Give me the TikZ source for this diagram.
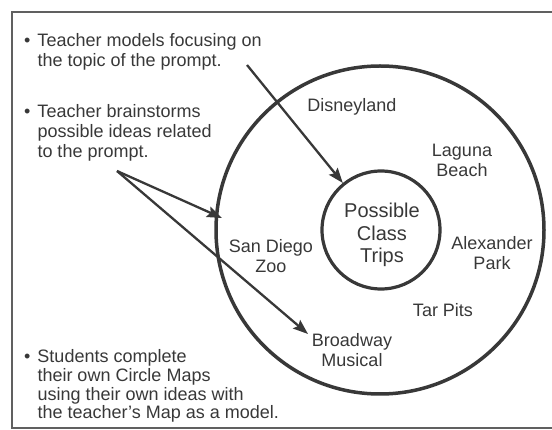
\documentclass[tikz,border=0pt]{standalone}
\usepackage{fontspec}
\setmainfont{Liberation Sans}
\usetikzlibrary{arrows.meta}
\definecolor{ink}{HTML}{383838}
% bulleted note, later lines start with &
\newcommand\noteitem[1]{\begin{tabular}[t]{@{}l@{\hspace{7pt}}l@{}}\textbullet & #1\end{tabular}}

\begin{document}
\begin{tikzpicture}[x=1pt, y=-1pt, >={Stealth[length=15pt,width=11pt,inset=2.5pt]},
  place/.style={align=center, text=ink, font=\fontsize{18}{20}\selectfont},
  note/.style={anchor=base west, inner sep=0pt, text=ink, font=\fontsize{18}{20}\selectfont},
  arrow/.style={->, draw=ink, line width=2.3pt}]

\useasboundingbox (0,0) rectangle (552,430);

%==== frame ====
\draw[ink!80, line width=1.5pt] (560,12) -- (12,12) -- (12,428) -- (560,428);

%==== circle map ====
\node[circle, draw=ink, line width=3.5pt, minimum size=328pt] (outer) at (380,230) {};
\node[circle, draw=ink, line width=3.2pt, minimum size=118pt] (trips) at (381,230) {};
\node[place, font=\fontsize{20}{22.5}\selectfont] (topic) at (382,235) {Possible\\Class\\Trips};

% ideas in the outer ring
\node[place] (disney)   at (352,107) {Disneyland};
\node[place] (laguna)   at (462,160) {Laguna\\Beach};
\node[place] (zoo)      at (271,256) {San Diego\\Zoo};
\node[place] (park)     at (492,253) {Alexander\\Park};
\node[place] (tarpits)  at (443,310) {Tar Pits};
\node[place] (musical)  at (352,350) {Broadway\\Musical};

%==== notes on the left ====
\node[note] (modelNote) at (24,47)
  {\noteitem{Teacher models focusing on\\ & the topic of the prompt.}};
\node[note] (brainNote) at (24,118)
  {\noteitem{Teacher brainstorms\\ & possible ideas related\\ & to the prompt.}};
\node[note, font=\fontsize{18}{18.5}\selectfont] (studentNote) at (24,363)
  {\noteitem{Students complete\\ & their own Circle Maps\\ & using their own ideas with\\ & the teacher's Map as a model.}};

%==== arrows ====
\coordinate (modelTail)  at (247,65);
\coordinate (fork)       at (117,171);
\coordinate (zooTip)     at (222,218);
\coordinate (musicalTip) at (308,334);

\draw[arrow] (modelTail) -- (trips);
\draw[arrow] (fork) -- (zooTip);
\draw[arrow] (fork) -- (musicalTip);

\end{tikzpicture}
\end{document}
